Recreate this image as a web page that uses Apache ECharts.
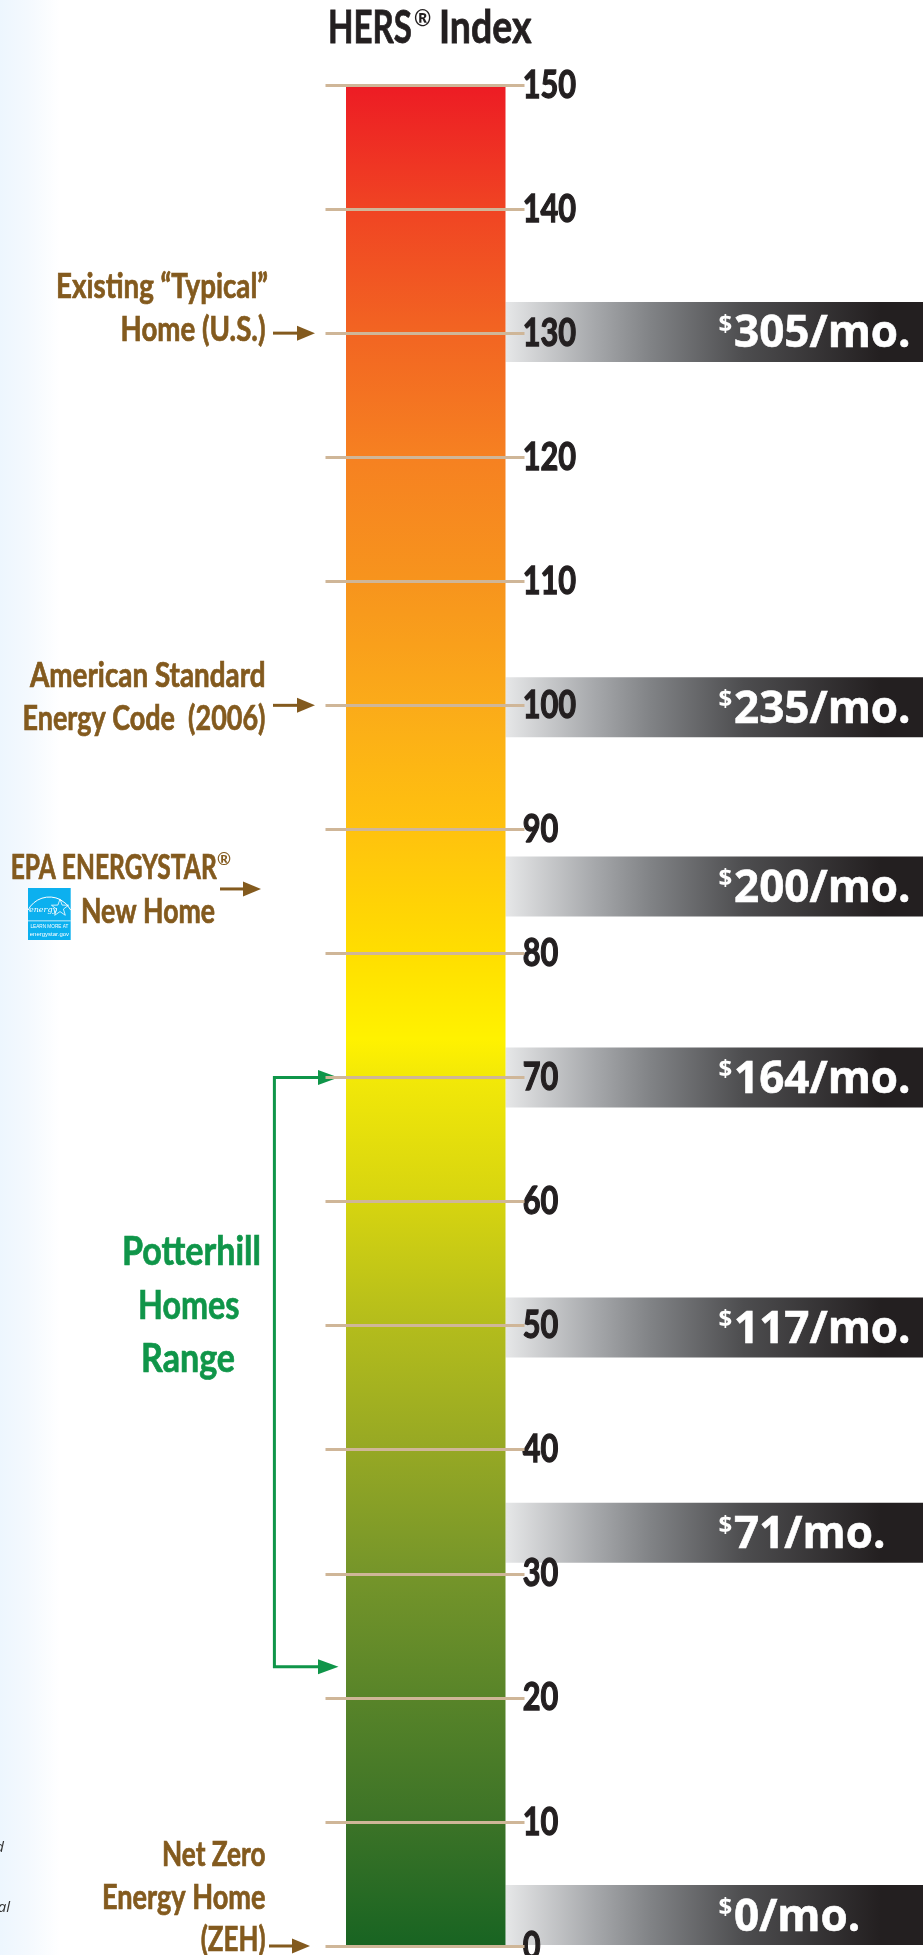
<!DOCTYPE html>
<html><head><meta charset="utf-8">
<style>html,body{margin:0;padding:0;background:#fff}#c{width:923px;height:1955px}</style>
<script src="https://cdn.jsdelivr.net/npm/echarts@6/dist/echarts.min.js"></script>
</head><body><div id="c"></div>
<script>
// ---- data ----
const indexMax = 150, indexMin = 0, indexStep = 10;
const tickLabels = ['0', '10', '20', '30', '40', '50', '60', '70', '80', '90', '100', '110', '120', '130', '140', '150'];
const tickValues = [0, 10, 20, 30, 40, 50, 60, 70, 80, 90, 100, 110, 120, 130, 140, 150];
const costIndex = [130.1, 99.85, 85.4, 70, 49.85, 33.3, 2.5];
const costLabels = ['305/mo.', '235/mo.', '200/mo.', '164/mo.', '117/mo.', '71/mo.', '0/mo.'];
const arrowIndex = [130, 100, 85.2, 0];
const arrowStartX = [273, 273, 220, 269];
const arrowTipX = [315, 315, 261, 310];
const rangeHigh = 70, rangeLow = 22.5;

const FACE = 'Lato,"Open Sans",sans-serif';
const BROWN = '#835a1e', GREEN = '#0f9549', INK = '#231f20';
const chart = echarts.init(document.getElementById('c'), null, {renderer: 'canvas'});
const mctx = document.createElement('canvas').getContext('2d');
function fit(text, font, width) { mctx.font = font; return width / mctx.measureText(text).width; }

const F_LABEL = 'bold 34px ' + FACE, F_GREEN = 'bold 41px ' + FACE, F_TICK = 'bold 39px ' + FACE, F_TITLE = 'bold 46px ' + FACE;
// left edge, width, vertical centre of one narrow text line
function line(t, x, w, y, font, fill, weight) {
  return {type: 'text', x, y, z: 20, scaleX: fit(t, font, w),
    style: {text: t, fill, stroke: fill, lineWidth: weight === undefined ? 0.7 : weight, align: 'left', verticalAlign: 'middle', font}};
}
const starPts = [];
for (let i = 0; i < 10; i++) {
  const r = i % 2 ? 3.6 : 9, a = -Math.PI / 2 + i * Math.PI / 5;
  starPts.push([r * Math.cos(a), r * Math.sin(a)]);
}
const graphics = [
  line('HERS', 328, 84, 28.5, F_TITLE, INK, 0.8),
  line('Index', 439, 92.5, 28.5, F_TITLE, INK, 0.8),
  {type: 'text', x: 414, y: 19, z: 20, scaleX: 0.95, style: {text: '®', fill: INK, verticalAlign: 'middle', font: 'bold 22px ' + FACE}},
  line('Existing “Typical”', 56, 212, 287, F_LABEL, BROWN),
  line('Home (U.S.)', 120.5, 145, 330, F_LABEL, BROWN),
  line('American Standard', 30, 235.5, 676, F_LABEL, BROWN),
  line('Energy Code  (2006)', 22.5, 243, 719, F_LABEL, BROWN),
  line('EPA ENERGYSTAR', 10.7, 206, 868, F_LABEL, BROWN),
  {type: 'text', x: 217, y: 860, z: 20, style: {text: '®', fill: BROWN, verticalAlign: 'middle', font: 'bold 17px ' + FACE}},
  line('New Home', 81, 134, 912, F_LABEL, BROWN),
  line('Net Zero', 162, 103.5, 1855, F_LABEL, BROWN),
  line('Energy Home', 102, 163.5, 1898, F_LABEL, BROWN),
  line('(ZEH)', 200.7, 64.8, 1940, F_LABEL, BROWN),
  line('Potterhill', 122, 139, 1252, F_GREEN, GREEN),
  line('Homes', 138, 101.5, 1306, F_GREEN, GREEN),
  line('Range', 141, 94, 1359, F_GREEN, GREEN),
  // cropped side text fragments
  {type: 'text', x: 4, y: 1848, z: 20, style: {text: 'd', fill: '#333', align: 'right', verticalAlign: 'middle', font: 'italic 15px "Open Sans"'}},
  {type: 'text', x: 1, y: 1862, z: 20, style: {text: '.', fill: '#333', align: 'right', verticalAlign: 'middle', font: 'italic 15px "Open Sans"'}},
  {type: 'text', x: 10, y: 1908, z: 20, style: {text: 'al', fill: '#333', align: 'right', verticalAlign: 'middle', font: 'italic 15px "Open Sans"'}},
  // ENERGY STAR badge
  {type: 'rect', z: 20, shape: {x: 28, y: 888, width: 42.7, height: 52}, style: {fill: '#0cb0ef'}},
  {type: 'rect', z: 21, shape: {x: 28, y: 920.5, width: 42.7, height: 0.8}, style: {fill: '#fff'}},
  {type: 'arc', z: 21, shape: {cx: 49.4, cy: 921, r: 24, startAngle: -Math.PI * 0.85, endAngle: -Math.PI * 0.15}, style: {stroke: '#fff', lineWidth: 1, fill: null}},
  {type: 'polygon', z: 21, x: 60, y: 908, shape: {points: starPts}, style: {stroke: '#fff', lineWidth: 0.8, fill: null}},
  {type: 'text', x: 43, y: 910, z: 21, style: {text: 'energy', fill: '#fff', align: 'center', verticalAlign: 'middle', font: 'italic 8px "DejaVu Serif"'}},
  {type: 'text', x: 49.4, y: 926.6, z: 21, scaleX: 0.9, style: {text: 'LEARN MORE AT', fill: '#fff', align: 'center', verticalAlign: 'middle', font: '5.2px "Liberation Sans"'}},
  {type: 'text', x: 49.4, y: 934, z: 21, style: {text: 'energystar.gov', fill: '#fff', align: 'center', verticalAlign: 'middle', font: '6px "Liberation Sans"'}}
];

const tickScale = fit('150', F_TICK, 53.5);
const option = {
  animation: false,
  backgroundColor: new echarts.graphic.LinearGradient(0, 0, 1, 0, [
    {offset: 0, color: '#edf6fe'}, {offset: 0.03, color: '#f4f9fe'}, {offset: 0.065, color: '#ffffff'}, {offset: 1, color: '#ffffff'}]),
  grid: {left: 325.5, width: 199, top: 85, height: 1861, containLabel: false, outerBoundsMode: 'none'},
  xAxis: {type: 'value', min: 325.5, max: 524.5, show: false},
  yAxis: {
    type: 'value', min: indexMin, max: indexMax, interval: indexStep, position: 'right', z: 10,
    axisLine: {show: false}, axisTick: {show: false}, axisLabel: {show: false},
    splitLine: {show: true, lineStyle: {color: '#cfb698', width: 3}}
  },
  graphic: graphics,
  series: [
    { // the scale column
      type: 'custom', name: 'HERS Index', z: 2, clip: false,
      data: [[indexMin, indexMax]],
      encode: {y: [0, 1]},
      renderItem(p, api) {
        const lo = api.coord([346, api.value(0)]), hi = api.coord([505.5, api.value(1)]);
        return {type: 'rect', shape: {x: lo[0], y: hi[1] + 1.5, width: hi[0] - lo[0], height: lo[1] - hi[1] - 1.5},
          style: {fill: new echarts.graphic.LinearGradient(0, 0, 0, 1, [
            {offset: 0, color: '#ed1c24'}, {offset: 0.066, color: '#f04423'}, {offset: 0.133, color: '#f26522'},
            {offset: 0.2, color: '#f68121'}, {offset: 0.266, color: '#f7941d'}, {offset: 0.333, color: '#fbab19'},
            {offset: 0.4, color: '#ffc20e'}, {offset: 0.466, color: '#ffde00'}, {offset: 0.512, color: '#fff200'},
            {offset: 0.534, color: '#f2e808'}, {offset: 0.60, color: '#d6d410'}, {offset: 0.667, color: '#b3bc1c'},
            {offset: 0.733, color: '#96a824'}, {offset: 0.80, color: '#75952a'}, {offset: 0.867, color: '#588429'},
            {offset: 0.933, color: '#3c7327'}, {offset: 1, color: '#186422'}])}};
      }
    },
    { // monthly cost bands
      type: 'custom', name: 'Monthly cost', z: 1, clip: false,
      data: costIndex.map((v, i) => [v, costLabels[i]]),
      encode: {y: 0},
      renderItem(p, api) {
        const c = api.coord([505.5, api.value(0)]), y = c[1], label = costLabels[p.dataIndex];
        return {type: 'group', children: [
          {type: 'rect', shape: {x: c[0], y: y - 30, width: 923 - c[0], height: 60},
            style: {fill: new echarts.graphic.LinearGradient(0, 0, 1, 0, [
              {offset: 0, color: '#e6e7e8'}, {offset: 0.21, color: '#a7a9ac'}, {offset: 0.35, color: '#808285'},
              {offset: 0.57, color: '#4d4d4f'}, {offset: 0.9, color: '#231f20'}, {offset: 1, color: '#231f20'}])}},
          {type: 'text', z2: 5, x: 718.5, y: y - 7, style: {text: '$', fill: '#fff', verticalAlign: 'middle', font: 'bold 24px "Open Sans"'}},
          {type: 'text', z2: 5, x: 734, y: y + 3, style: {text: label, fill: '#fff', stroke: '#fff', lineWidth: 0.6, verticalAlign: 'middle', font: 'bold 44px "Open Sans"'}}
        ]};
      }
    },
    { // axis tick labels
      type: 'custom', name: 'Tick labels', z: 7, clip: false,
      data: tickValues.map((v, i) => [v, tickLabels[i]]),
      encode: {y: 0},
      renderItem(p, api) {
        const c = api.coord([522.7, api.value(0)]);
        return {type: 'text', x: c[0], y: c[1], scaleX: tickScale,
          style: {text: tickLabels[p.dataIndex], fill: INK, stroke: INK, lineWidth: 1.3, verticalAlign: 'middle', font: F_TICK}};
      }
    },
    { // brown arrows
      type: 'custom', name: 'Reference homes', z: 6, clip: false,
      data: arrowIndex.map((v, i) => [arrowStartX[i], v, arrowTipX[i]]),
      encode: {x: 0, y: 1},
      renderItem(p, api) {
        const a = api.coord([api.value(0), api.value(1)]), tip = api.value(2), y = a[1];
        return {type: 'group', children: [
          {type: 'line', shape: {x1: a[0], y1: y, x2: tip - 12, y2: y}, style: {stroke: BROWN, lineWidth: 3}},
          {type: 'polygon', shape: {points: [[tip, y], [tip - 18, y - 7.5], [tip - 18, y + 7.5]]}, style: {fill: BROWN}}
        ]};
      }
    },
    { // green range bracket
      type: 'custom', name: 'Potterhill Homes Range', z: 6, clip: false,
      data: [[rangeHigh, rangeLow]],
      encode: {y: [0, 1]},
      renderItem(p, api) {
        const hi = api.coord([274.4, api.value(0)]), lo = api.coord([274.4, api.value(1)]), tip = 338.5, st = 318;
        const head = y => ({type: 'polygon', shape: {points: [[tip, y], [st, y - 7.5], [st, y + 7.5]]}, style: {fill: GREEN}});
        return {type: 'group', children: [
          {type: 'polyline', shape: {points: [[st + 2, hi[1]], [hi[0], hi[1]], [hi[0], lo[1]], [st + 2, lo[1]]]},
            style: {stroke: GREEN, lineWidth: 3, fill: null}},
          head(hi[1]), head(lo[1])
        ]};
      }
    }
  ]
};
chart.setOption(option);
</script></body></html>
